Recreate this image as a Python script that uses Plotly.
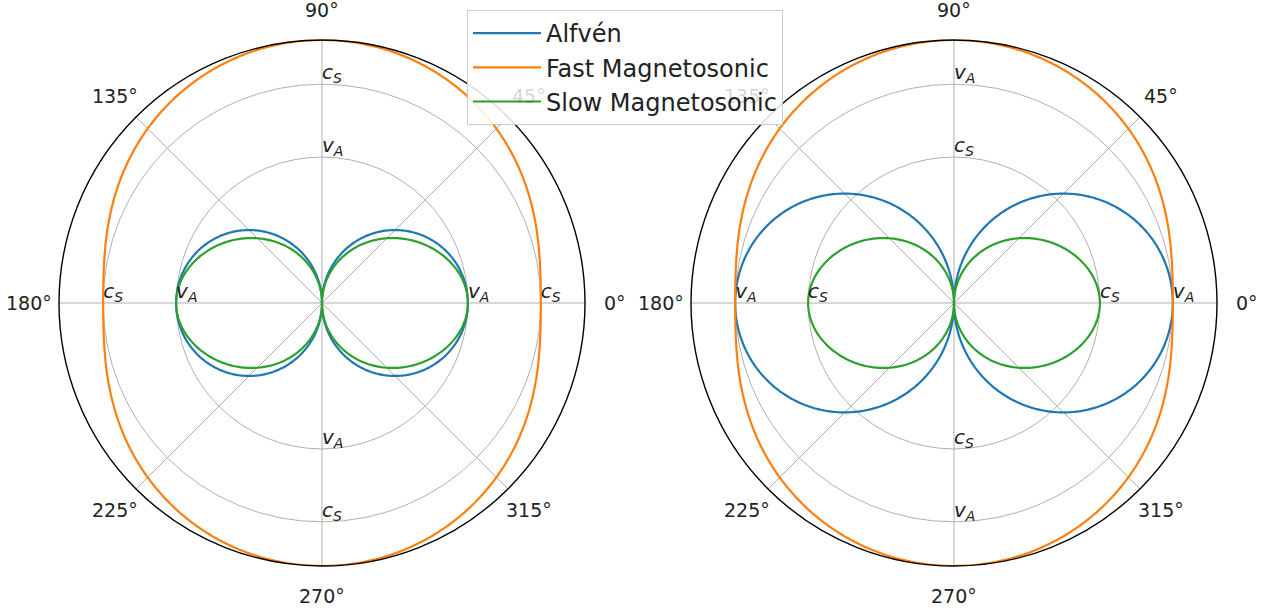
import numpy as np
import plotly.graph_objects as go

# Wave speed parameters for the two panels (left, right)
panel_vA = [2.0, 3.0]
panel_cs = [3.0, 2.0]
series_names = ["Alfvén", "Fast Magnetosonic", "Slow Magnetosonic"]
series_colors = ["#1f77b4", "#ff7f0e", "#2ca02c"]
angle_ticks = [0, 45, 90, 135, 180, 225, 270, 315]
angle_labels = ["0°", "45°", "90°", "135°", "180°", "225°", "270°", "315°"]
label_angles = [0, 90, 180, 270]
vA_label = "<i>v<sub>A</sub></i>"
cs_label = "<i>c<sub>S</sub></i>"

theta_deg = np.linspace(0, 360, 721)
th = np.radians(theta_deg)

FONT = "DejaVu Sans"
W, H = 1275, 612
LABEL_PAD_PX = 30  # distance of angular labels' centres outside the rim
LEGEND_BOX = (467, 10, 796, 122)  # approx legend box in px (x0, y0, x1, y1)

fig = go.Figure()


def px_x(x):
    return x / W


def px_y(y):
    return 1 - y / H


domains_x = [[px_x(59), px_x(585)], [px_x(691), px_x(1217)]]
domain_y = [px_y(566), px_y(40)]

annotations = []
for i, (vA, cs) in enumerate(zip(panel_vA, panel_cs)):
    pname = "polar" if i == 0 else "polar2"
    s = vA**2 + cs**2
    rmax = np.sqrt(s)
    disc = np.sqrt(np.maximum(s**2 - 4 * vA**2 * cs**2 * np.cos(th) ** 2, 0))
    v_alf = vA * np.abs(np.cos(th))
    v_fast = np.sqrt(0.5 * (s + disc))
    v_slow = np.sqrt(np.maximum(0.5 * (s - disc), 0))
    for name, col, r in zip(series_names, series_colors, [v_alf, v_fast, v_slow]):
        fig.add_trace(go.Scatterpolar(
            r=r, theta=theta_deg, mode="lines", name=name,
            line=dict(color=col, width=2.2),
            subplot=pname, showlegend=(i == 0)))
    # radial labels
    for val, lab in [(vA, vA_label), (cs, cs_label)]:
        fig.add_trace(go.Scatterpolar(
            r=[val] * len(label_angles), theta=label_angles, mode="text",
            text=[lab] * len(label_angles), textposition="top right",
            textfont=dict(family=FONT, size=20, color="#222"),
            subplot=pname, showlegend=False, hoverinfo="skip"))
    # angular tick labels, centred just outside the rim (matplotlib style)
    dx = domains_x[i]
    cx = (dx[0] + dx[1]) / 2
    cy = (domain_y[0] + domain_y[1]) / 2
    R_px = (dx[1] - dx[0]) * W / 2 + LABEL_PAD_PX
    for ang, lab in zip(angle_ticks, angle_labels):
        a = np.radians(ang)
        ax_px = cx * W + R_px * np.cos(a)
        ay_px = (1 - cy) * H - R_px * np.sin(a)
        under_legend = (LEGEND_BOX[0] < ax_px < LEGEND_BOX[2]
                        and LEGEND_BOX[1] < ay_px < LEGEND_BOX[3])
        color = "rgba(34,34,34,0.2)" if under_legend else "#222"
        annotations.append(dict(
            x=ax_px / W, y=1 - ay_px / H,
            xref="paper", yref="paper", text=lab, showarrow=False,
            xanchor="center", yanchor="middle",
            font=dict(family=FONT, size=19, color=color)))
    polar_layout = dict(
        domain=dict(x=dx, y=domain_y),
        bgcolor="white",
        radialaxis=dict(range=[0, rmax], tickvals=sorted([vA, cs]),
                        showticklabels=False, ticks="", showline=False,
                        gridcolor="#b0b0b0", gridwidth=1),
        angularaxis=dict(tickmode="array", tickvals=angle_ticks,
                         showticklabels=False, ticks="",
                         rotation=0, direction="counterclockwise",
                         showline=True, linecolor="black", linewidth=1.4,
                         gridcolor="#b0b0b0", gridwidth=1),
    )
    fig.update_layout(**{pname: polar_layout})

fig.update_layout(
    width=W, height=H,
    margin=dict(l=0, r=0, t=0, b=0),
    paper_bgcolor="white",
    font=dict(family=FONT, color="#222"),
    annotations=annotations,
    legend=dict(x=px_x(467), y=px_y(10), xanchor="left", yanchor="top",
                bgcolor="rgba(255,255,255,0.85)", bordercolor="#cccccc", borderwidth=1,
                font=dict(family=FONT, size=24, color="#222"),
                itemwidth=68, tracegroupgap=0),
)

fig.write_html("out.html", config={"displayModeBar": False},
               post_script="document.body.style.margin='0';")
